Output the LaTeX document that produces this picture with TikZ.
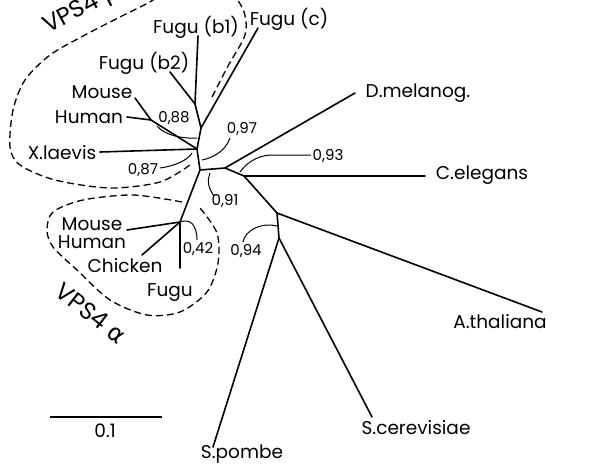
\documentclass[tikz,border=0pt]{standalone}
\usepackage{fontspec}
\setmainfont{Poppins}
\newfontfamily\greekf{DejaVu Sans}
\begin{document}
\begin{tikzpicture}[x=1pt,y=-1pt,
  br/.style={line width=1.6pt, line cap=round},
  bs/.style={line width=1pt},
  grp/.style={line width=1.3pt, dash pattern=on 7pt off 4pt},
  leaf/.style={font=\fontsize{18.5}{18.5}\selectfont, inner sep=0pt},
  bv/.style={font=\fontsize{15}{15}\selectfont, inner sep=0pt},
  grplab/.style={font=\fontsize{24}{24}\selectfont, inner sep=0pt}]
\useasboundingbox (0,0) rectangle (593,468);
\clip (0,0) rectangle (593,468);
% internal nodes
\coordinate (c) at (200,170);
\coordinate (nb) at (197,149);
\coordinate (nA) at (201,128);
\coordinate (nB) at (195,104);
\coordinate (nMH) at (151,120);
\coordinate (na) at (180,222);
\coordinate (n1) at (225,168);
\coordinate (n2) at (244,176);
\coordinate (n3) at (277,213);
\coordinate (n4) at (279,238);
% leaf tips
\coordinate (tB1) at (198,36);
\coordinate (tB2) at (170,72);
\coordinate (tC) at (258,28);
\coordinate (tM) at (135,98);
\coordinate (tH) at (127,117);
\coordinate (tX) at (100,152);
\coordinate (taMH) at (127,230);
\coordinate (taC) at (142,255);
\coordinate (taF) at (180,268);
\coordinate (tD) at (355,93);
\coordinate (tCe) at (425,176);
\coordinate (tA) at (542,312);
\coordinate (tSp) at (213,447);
\coordinate (tSc) at (372,417);
% labels
\node[leaf] (lB1) at (196,27) {Fugu (b1)};
\node[leaf] (lC) at (289,19) {Fugu (c)};
\node[leaf] (lB2) at (144,63) {Fugu (b2)};
\node[leaf] (lM) at (102,92) {Mouse};
\node[leaf] (lH) at (89,117) {Human};
\node[leaf] (lX) at (62,153) {X.laevis};
\node[leaf] (lD) at (418,93) {D.melanog.};
\node[leaf] (lCe) at (482,175) {C.elegans};
\node[leaf] (lA) at (500,322) {A.thaliana};
\node[leaf] (lSc) at (416,428) {S.cerevisiae};
\node[leaf] (lSp) at (242,454) {S.pombe};
\node[leaf] (laM) at (92,224) {Mouse};
\node[leaf] (laH) at (92,242) {Human};
\node[leaf] (laC) at (125,266) {Chicken};
\node[leaf] (laF) at (170,293) {Fugu};
% tree
\draw[br] (c) -- (nb) -- (nA) -- (nB) -- (tB1);
\draw[br] (nB) -- (tB2);
\draw[br] (nA) -- (tC);
\draw[br] (nb) -- (tX);
\draw[br] (nb) -- (nMH) -- (tM);
\draw[br] (nMH) -- (tH);
\draw[br] (c) -- (na) -- (taMH);
\draw[br] (na) -- (taC);
\draw[br] (na) -- (taF);
\draw[br] (c) -- (n1) -- (tD);
\draw[br] (n1) -- (n2) -- (tCe);
\draw[br] (n2) -- (n3) -- (tA);
\draw[br] (n3) -- (n4) -- (tSp);
\draw[br] (n4) -- (tSc);
% bootstrap values
\node[bv] (b88) at (174,118) {0,88};
\node[bv] (b97) at (242,129) {0,97};
\node[bv] (b87) at (143,170) {0,87};
\node[bv] (b91) at (225,201) {0,91};
\node[bv] (b93) at (328,156) {0,93};
\node[bv] (b42) at (198,249) {0,42};
\node[bv] (b94) at (246,251) {0,94};
\draw[bs] (157,126) .. controls (165,136) and (185,139) .. (197,138);
\draw[bs] (230,138) .. controls (225,152) and (212,158) .. (202,160);
\draw[bs] (160,168) .. controls (175,166) and (188,160) .. (192,153);
\draw[bs] (214,196) .. controls (208,188) and (207,180) .. (210,173);
\draw[bs] (311,155) -- (270,155) .. controls (255,156) and (245,165) .. (240,172);
\draw[bs] (180,222) .. controls (190,218) and (197,225) .. (197,240);
\draw[bs] (243,242) .. controls (245,230) and (262,222) .. (277,226);
% groups
\draw[grp] plot[smooth] coordinates {(212,97) (228,66) (245,35) (244,12) (230,-8) (200,-18) (170,-10) (148,3) (120,17) (85,35) (50,55) (25,80) (13,110) (10,147) (20,165) (55,180) (110,188) (160,182) (190,165)};
\draw[grp] plot[smooth] coordinates {(182,202) (133,195) (83,200) (53,212) (47,230) (53,247) (77,270) (110,300) (147,315) (180,312) (207,292) (218,263) (217,233) (200,208)};
\node[grplab, rotate=28, anchor=base west] (gb) at (48,34) {VPS4 {\greekf β}};
\node[grplab, rotate=-38] (ga) at (91,313) {VPS4 {\greekf α}};
% scale bar
\coordinate (s0) at (50,417);
\coordinate (s1) at (162,417);
\draw[line width=1.6pt] (s0) -- (s1);
\node[leaf] (sl) at (105,431) {0.1};
\end{tikzpicture}
\end{document}
